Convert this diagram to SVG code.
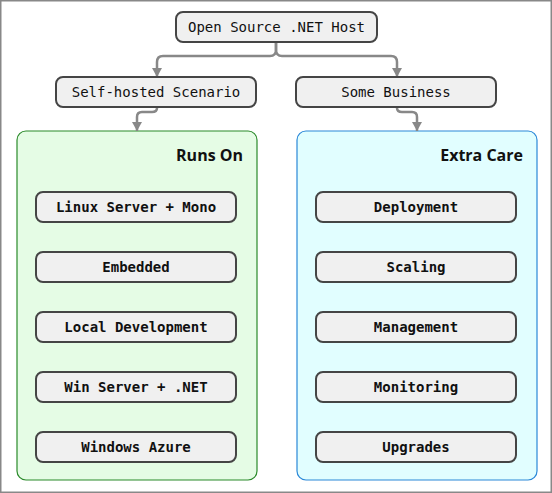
<svg xmlns="http://www.w3.org/2000/svg" width="552" height="493" viewBox="0 0 552 493">
<defs>
<style>
.node{fill:#f0f0f0;stroke:#454545;stroke-width:2}
.t{font-family:"DejaVu Sans Mono","Liberation Mono",monospace;font-size:14px;fill:#111;text-anchor:middle}
.b{font-weight:bold}
.title{font-family:"Open Sans","DejaVu Sans",sans-serif;font-size:16px;font-weight:bold;fill:#111;text-anchor:end}
.conn{fill:none;stroke:#888;stroke-width:2.5;marker-end:url(#arr)}
</style>
<marker id="arr" markerUnits="userSpaceOnUse" markerWidth="12" markerHeight="12" refX="10" refY="6" orient="auto" viewBox="0 0 12 12">
<path d="M1,1 L10,6 L1,11 z" fill="#888"/>
</marker>
</defs>
<rect x="0.75" y="0.75" width="550.5" height="491.5" fill="#fff" stroke="#888" stroke-width="1.5"/>

<g id="group-runs-on">
<rect x="17" y="131" width="240" height="349" rx="9" fill="#e5fce5" stroke="#2a8a2a" stroke-width="1.2"/>
<text class="title" x="243" y="161">Runs On</text>
</g>
<g id="group-extra-care">
<rect x="297" y="131" width="240" height="349" rx="9" fill="#e1feff" stroke="#2a88d8" stroke-width="1.2"/>
<text class="title" x="523" y="161">Extra Care</text>
</g>

<g id="connectors">
<path class="conn" d="M276,42 V50 Q276,56 270,56 H163 Q157,56 157,62 V77"/>
<path class="conn" d="M276,42 V50 Q276,56 282,56 H391 Q397,56 397,62 V77"/>
<path class="conn" d="M157,107 V108 Q157,112 152,112 H142 Q137,112 137,117 V131"/>
<path class="conn" d="M397,107 V108 Q397,112 402,112 H412 Q417,112 417,117 V131"/>
</g>

<g id="node-host"><rect class="node" x="176" y="12" width="201" height="30" rx="7"/><text class="t" x="276.5" y="32">Open Source .NET Host</text></g>
<g id="node-self-hosted"><rect class="node" x="56" y="77" width="200" height="30" rx="7"/><text class="t" x="156" y="97">Self-hosted Scenario</text></g>
<g id="node-business"><rect class="node" x="296" y="77" width="200" height="30" rx="7"/><text class="t" x="396" y="97">Some Business</text></g>

<g id="node-linux"><rect class="node" x="36" y="192" width="200" height="30" rx="7"/><text class="t b" x="136" y="212">Linux Server + Mono</text></g>
<g id="node-embedded"><rect class="node" x="36" y="252" width="200" height="30" rx="7"/><text class="t b" x="136" y="272">Embedded</text></g>
<g id="node-local-dev"><rect class="node" x="36" y="312" width="200" height="30" rx="7"/><text class="t b" x="136" y="332">Local Development</text></g>
<g id="node-win-server"><rect class="node" x="36" y="372" width="200" height="30" rx="7"/><text class="t b" x="136" y="392">Win Server + .NET</text></g>
<g id="node-azure"><rect class="node" x="36" y="432" width="200" height="30" rx="7"/><text class="t b" x="136" y="452">Windows Azure</text></g>

<g id="node-deployment"><rect class="node" x="316" y="192" width="200" height="30" rx="7"/><text class="t b" x="416" y="212">Deployment</text></g>
<g id="node-scaling"><rect class="node" x="316" y="252" width="200" height="30" rx="7"/><text class="t b" x="416" y="272">Scaling</text></g>
<g id="node-management"><rect class="node" x="316" y="312" width="200" height="30" rx="7"/><text class="t b" x="416" y="332">Management</text></g>
<g id="node-monitoring"><rect class="node" x="316" y="372" width="200" height="30" rx="7"/><text class="t b" x="416" y="392">Monitoring</text></g>
<g id="node-upgrades"><rect class="node" x="316" y="432" width="200" height="30" rx="7"/><text class="t b" x="416" y="452">Upgrades</text></g>
</svg>
